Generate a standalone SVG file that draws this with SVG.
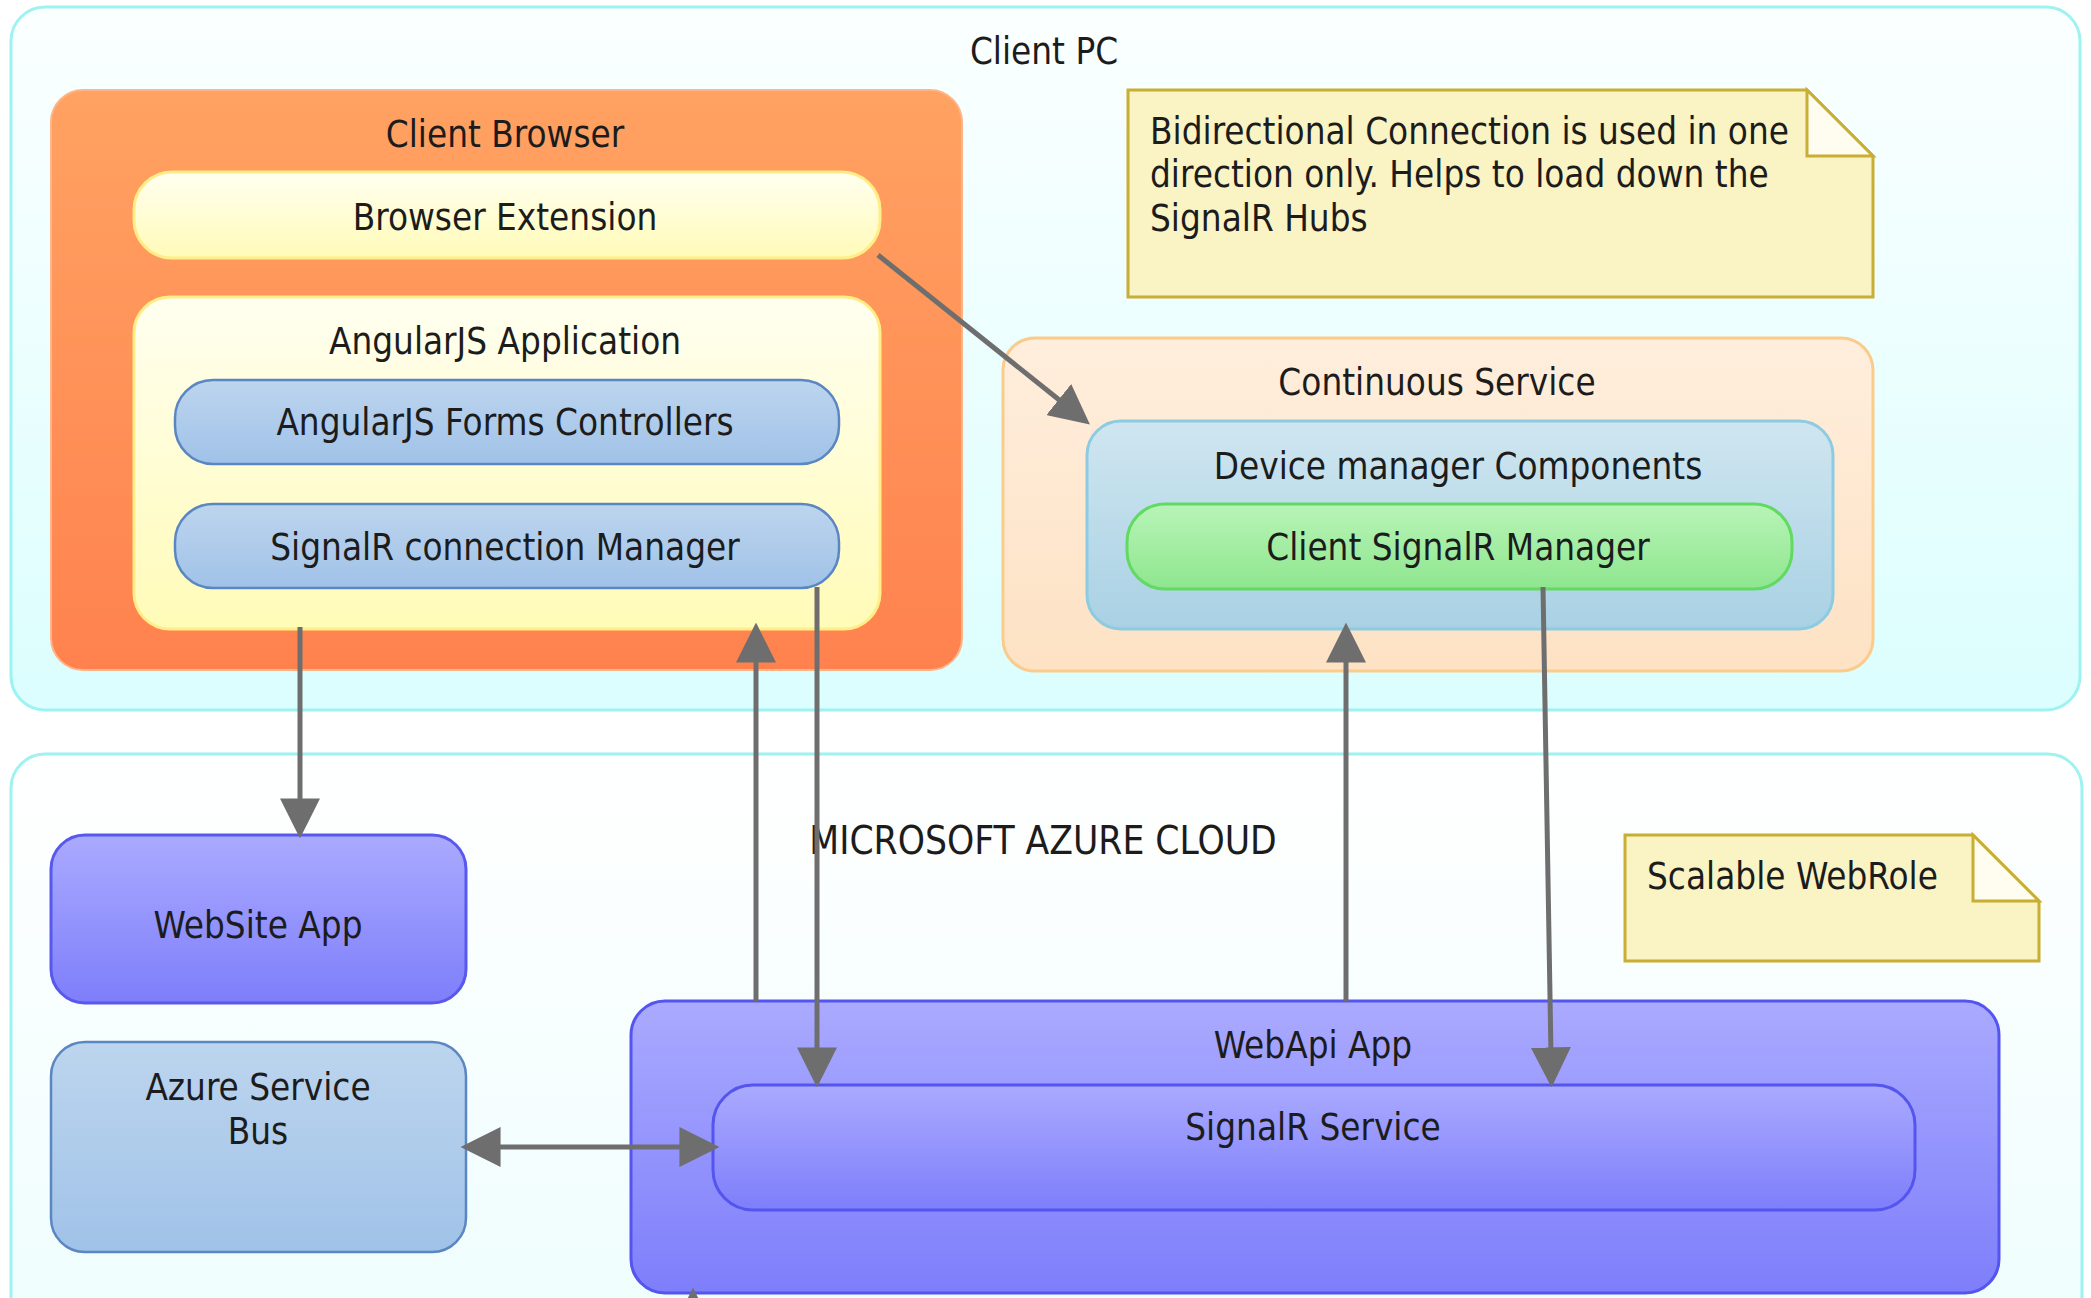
<svg xmlns="http://www.w3.org/2000/svg" width="2091" height="1298" viewBox="0 0 2091 1298">
<defs>
<linearGradient id="gPC" x1="0" y1="0" x2="0" y2="1"><stop offset="0" stop-color="#FBFFFF"/><stop offset="1" stop-color="#DCFEFE"/></linearGradient>
<linearGradient id="gCloud" x1="0" y1="0" x2="0" y2="1"><stop offset="0" stop-color="#FFFFFF"/><stop offset="1" stop-color="#EEFDFD"/></linearGradient>
<linearGradient id="gOrange" x1="0" y1="0" x2="0" y2="1"><stop offset="0" stop-color="#FFA262"/><stop offset="1" stop-color="#FF824E"/></linearGradient>
<linearGradient id="gYellow" x1="0" y1="0" x2="0" y2="1"><stop offset="0" stop-color="#FFFFF0"/><stop offset="1" stop-color="#FFFBB8"/></linearGradient>
<linearGradient id="gBlue" x1="0" y1="0" x2="0" y2="1"><stop offset="0" stop-color="#BDD5EE"/><stop offset="1" stop-color="#A0C2E8"/></linearGradient>
<linearGradient id="gPeach" x1="0" y1="0" x2="0" y2="1"><stop offset="0" stop-color="#FFEEDD"/><stop offset="1" stop-color="#FDE2C4"/></linearGradient>
<linearGradient id="gDev" x1="0" y1="0" x2="0" y2="1"><stop offset="0" stop-color="#CFE6F0"/><stop offset="1" stop-color="#A9D1E4"/></linearGradient>
<linearGradient id="gGreen" x1="0" y1="0" x2="0" y2="1"><stop offset="0" stop-color="#B8F4B8"/><stop offset="1" stop-color="#8EE68E"/></linearGradient>
<linearGradient id="gPurple" x1="0" y1="0" x2="0" y2="1"><stop offset="0" stop-color="#AAAAFF"/><stop offset="1" stop-color="#7E7EFB"/></linearGradient>
<marker id="arr" markerUnits="userSpaceOnUse" markerWidth="40" markerHeight="40" viewBox="0 0 37 37" refX="7" refY="18.5" orient="auto">
<path d="M0,0 L37,18.5 L0,37 Z" fill="#6E6E6E"/>
</marker>
<marker id="arrStart" markerUnits="userSpaceOnUse" markerWidth="40" markerHeight="40" viewBox="0 0 37 37" refX="7" refY="18.5" orient="auto-start-reverse">
<path d="M0,0 L37,18.5 L0,37 Z" fill="#6E6E6E"/>
</marker>
</defs>
<style>
text{font-family:"DejaVu Sans Condensed","DejaVu Sans",sans-serif;font-stretch:condensed;font-size:36.5px;fill:#1c1c1c;text-anchor:middle}
.lt{text-anchor:start}
.big{font-size:38.5px}
.con{stroke:#6E6E6E;stroke-width:5;fill:none}
.note{fill:#FAF3C3;stroke:#C8AE32;stroke-width:3}
.fold{fill:#FFFDF0;stroke:#C8AE32;stroke-width:3;stroke-linejoin:miter}
</style>

<g id="client-pc">
<rect x="11" y="7" width="2069" height="703" rx="34" fill="url(#gPC)" stroke="#9EF2F2" stroke-width="3"/>
<text x="1044" y="64">Client PC</text>
</g>

<g id="azure-cloud">
<rect x="11" y="754" width="2071" height="600" rx="34" fill="url(#gCloud)" stroke="#9EF2F2" stroke-width="3"/>
<text class="big" x="1043" y="854">MICROSOFT AZURE CLOUD</text>
</g>

<g id="client-browser">
<rect x="51" y="90" width="911" height="580" rx="32" fill="url(#gOrange)" stroke="#FFB48A" stroke-width="2"/>
<text x="505" y="147">Client Browser</text>
</g>

<g id="browser-extension">
<rect x="134" y="172" width="746" height="86" rx="38" fill="url(#gYellow)" stroke="#FFEE88" stroke-width="3"/>
<text x="505" y="230">Browser Extension</text>
</g>

<g id="angularjs-application">
<rect x="134" y="297" width="746" height="332" rx="36" fill="url(#gYellow)" stroke="#FFEE88" stroke-width="3"/>
<text x="505" y="354">AngularJS Application</text>
</g>

<g id="angularjs-forms-controllers">
<rect x="175" y="380" width="664" height="84" rx="38" fill="url(#gBlue)" stroke="#5A86C2" stroke-width="2.5"/>
<text x="505" y="435">AngularJS Forms Controllers</text>
</g>

<g id="signalr-connection-manager">
<rect x="175" y="504" width="664" height="84" rx="38" fill="url(#gBlue)" stroke="#5A86C2" stroke-width="2.5"/>
<text x="505" y="560">SignalR connection Manager</text>
</g>

<g id="note-bidirectional">
<path class="note" d="M1128,90 H1807 L1873,156 V297 H1128 Z"/>
<path class="fold" d="M1807,90 V156 H1873 Z"/>
<text class="lt" x="1150" y="144">Bidirectional Connection is used in one</text>
<text class="lt" x="1150" y="187">direction only. Helps to load down the</text>
<text class="lt" x="1150" y="231">SignalR Hubs</text>
</g>

<g id="continuous-service">
<rect x="1003" y="338" width="870" height="333" rx="32" fill="url(#gPeach)" stroke="#FBCB8C" stroke-width="3"/>
<text x="1437" y="395">Continuous Service</text>
</g>

<g id="device-manager-components">
<rect x="1087" y="421" width="746" height="208" rx="34" fill="url(#gDev)" stroke="#8CCBE2" stroke-width="3"/>
<text x="1458" y="479">Device manager Components</text>
</g>

<g id="client-signalr-manager">
<rect x="1127" y="504" width="665" height="85" rx="38" fill="url(#gGreen)" stroke="#62DA62" stroke-width="3"/>
<text x="1458" y="560">Client SignalR Manager</text>
</g>

<g id="website-app">
<rect x="51" y="835" width="415" height="168" rx="34" fill="url(#gPurple)" stroke="#5858EE" stroke-width="3"/>
<text x="258" y="938">WebSite App</text>
</g>

<g id="azure-service-bus">
<rect x="51" y="1042" width="415" height="210" rx="34" fill="url(#gBlue)" stroke="#5A86C2" stroke-width="2.5"/>
<text x="258" y="1100">Azure Service</text>
<text x="258" y="1144">Bus</text>
</g>

<g id="note-webrole">
<path class="note" d="M1625,835 H1973 L2039,901 V961 H1625 Z"/>
<path class="fold" d="M1973,835 V901 H2039 Z"/>
<text class="lt" x="1647" y="889">Scalable WebRole</text>
</g>

<g id="webapi-app">
<rect x="631" y="1001" width="1368" height="292" rx="34" fill="url(#gPurple)" stroke="#5454F0" stroke-width="3"/>
<text x="1313" y="1058">WebApi App</text>
</g>

<g id="signalr-service">
<rect x="713" y="1085" width="1202" height="125" rx="40" fill="url(#gPurple)" stroke="#5454F0" stroke-width="3"/>
<text x="1313" y="1140">SignalR Service</text>
</g>

<g id="connectors">
<line class="con" x1="878" y1="255" x2="1064.6" y2="404.3" marker-end="url(#arr)"/>
<line class="con" x1="300" y1="627" x2="300" y2="806" marker-end="url(#arr)"/>
<line class="con" x1="756" y1="1001" x2="756" y2="655" marker-end="url(#arr)"/>
<line class="con" x1="817" y1="587" x2="817" y2="1055" marker-end="url(#arr)"/>
<line class="con" x1="1346" y1="1001" x2="1346" y2="655" marker-end="url(#arr)"/>
<line class="con" x1="1543" y1="587" x2="1551" y2="1055" marker-end="url(#arr)"/>
<line class="con" x1="493" y1="1147" x2="687" y2="1147" marker-start="url(#arrStart)" marker-end="url(#arr)"/>
<line class="con" x1="693" y1="1340" x2="693" y2="1320" marker-end="url(#arr)"/>
</g>
</svg>
